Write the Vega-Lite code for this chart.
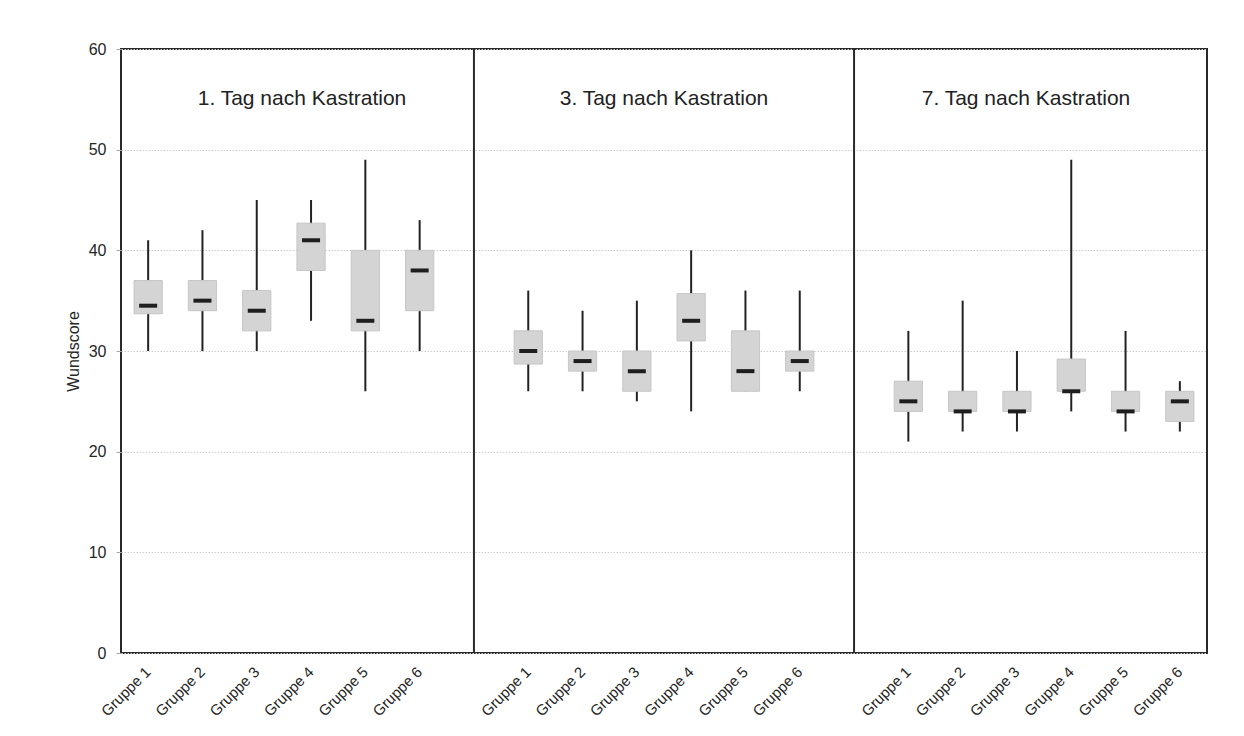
{
  "$schema": "https://vega.github.io/schema/vega-lite/v6.json",
  "width": 1086,
  "height": 604,
  "autosize": "none",
  "padding": {"left": 121, "top": 49, "right": 37, "bottom": 83},
  "background": "white",
  "config": {
    "font": "Liberation Sans",
    "view": {"stroke": "#2a2a2a", "strokeWidth": 2},
    "axis": {"labelColor": "#262626", "titleColor": "#262626", "labelFont": "Liberation Sans", "titleFont": "Liberation Sans"}
  },
  "datasets": {
    "boxes": [
      {"slot": "1|Gruppe 1", "tag": "1. Tag nach Kastration", "gruppe": "Gruppe 1", "low": 30, "q1": 33.7, "median": 34.5, "q3": 37, "high": 41},
      {"slot": "1|Gruppe 2", "tag": "1. Tag nach Kastration", "gruppe": "Gruppe 2", "low": 30, "q1": 34, "median": 35, "q3": 37, "high": 42},
      {"slot": "1|Gruppe 3", "tag": "1. Tag nach Kastration", "gruppe": "Gruppe 3", "low": 30, "q1": 32, "median": 34, "q3": 36, "high": 45},
      {"slot": "1|Gruppe 4", "tag": "1. Tag nach Kastration", "gruppe": "Gruppe 4", "low": 33, "q1": 38, "median": 41, "q3": 42.7, "high": 45},
      {"slot": "1|Gruppe 5", "tag": "1. Tag nach Kastration", "gruppe": "Gruppe 5", "low": 26, "q1": 32, "median": 33, "q3": 40, "high": 49},
      {"slot": "1|Gruppe 6", "tag": "1. Tag nach Kastration", "gruppe": "Gruppe 6", "low": 30, "q1": 34, "median": 38, "q3": 40, "high": 43},
      {"slot": "3|Gruppe 1", "tag": "3. Tag nach Kastration", "gruppe": "Gruppe 1", "low": 26, "q1": 28.7, "median": 30, "q3": 32, "high": 36},
      {"slot": "3|Gruppe 2", "tag": "3. Tag nach Kastration", "gruppe": "Gruppe 2", "low": 26, "q1": 28, "median": 29, "q3": 30, "high": 34},
      {"slot": "3|Gruppe 3", "tag": "3. Tag nach Kastration", "gruppe": "Gruppe 3", "low": 25, "q1": 26, "median": 28, "q3": 30, "high": 35},
      {"slot": "3|Gruppe 4", "tag": "3. Tag nach Kastration", "gruppe": "Gruppe 4", "low": 24, "q1": 31, "median": 33, "q3": 35.7, "high": 40},
      {"slot": "3|Gruppe 5", "tag": "3. Tag nach Kastration", "gruppe": "Gruppe 5", "low": 26, "q1": 26, "median": 28, "q3": 32, "high": 36},
      {"slot": "3|Gruppe 6", "tag": "3. Tag nach Kastration", "gruppe": "Gruppe 6", "low": 26, "q1": 28, "median": 29, "q3": 30, "high": 36},
      {"slot": "7|Gruppe 1", "tag": "7. Tag nach Kastration", "gruppe": "Gruppe 1", "low": 21, "q1": 24, "median": 25, "q3": 27, "high": 32},
      {"slot": "7|Gruppe 2", "tag": "7. Tag nach Kastration", "gruppe": "Gruppe 2", "low": 22, "q1": 24, "median": 24, "q3": 26, "high": 35},
      {"slot": "7|Gruppe 3", "tag": "7. Tag nach Kastration", "gruppe": "Gruppe 3", "low": 22, "q1": 24, "median": 24, "q3": 26, "high": 30},
      {"slot": "7|Gruppe 4", "tag": "7. Tag nach Kastration", "gruppe": "Gruppe 4", "low": 24, "q1": 26, "median": 26, "q3": 29.2, "high": 49},
      {"slot": "7|Gruppe 5", "tag": "7. Tag nach Kastration", "gruppe": "Gruppe 5", "low": 22, "q1": 24, "median": 24, "q3": 26, "high": 32},
      {"slot": "7|Gruppe 6", "tag": "7. Tag nach Kastration", "gruppe": "Gruppe 6", "low": 22, "q1": 23, "median": 25, "q3": 26, "high": 27}
    ],
    "gaps": [
      {"slot": "gap-a"},
      {"slot": "gap-b"}
    ],
    "panels": [
      {"tag": "1. Tag nach Kastration"},
      {"tag": "3. Tag nach Kastration"},
      {"tag": "7. Tag nach Kastration"}
    ]
  },
  "layer": [
    {
      "layer": [
        {
          "data": {"name": "boxes"},
          "mark": {"type": "rule", "color": "#222222", "strokeWidth": 2},
          "encoding": {
            "x": {"field": "slot", "type": "nominal"},
            "y": {"field": "low", "type": "quantitative"},
            "y2": {"field": "high"}
          }
        },
        {
          "data": {"name": "boxes"},
          "mark": {"type": "bar", "color": "#d4d4d4", "stroke": "#c6c6c6", "strokeWidth": 1, "width": {"band": 0.52}},
          "encoding": {
            "x": {"field": "slot", "type": "nominal"},
            "y": {"field": "q1", "type": "quantitative"},
            "y2": {"field": "q3"}
          }
        },
        {
          "data": {"name": "boxes"},
          "mark": {"type": "tick", "color": "#1e1e1e", "size": 18, "thickness": 4, "opacity": 1},
          "encoding": {
            "x": {"field": "slot", "type": "nominal"},
            "y": {"field": "median", "type": "quantitative"}
          }
        },
        {
          "data": {"name": "gaps"},
          "mark": {"type": "rule", "color": "#2a2a2a", "strokeWidth": 2},
          "encoding": {
            "x": {"field": "slot", "type": "nominal"}
          }
        }
      ],
      "encoding": {
        "x": {
          "field": "slot",
          "type": "nominal",
          "sort": null,
          "scale": {
            "domain": ["1|Gruppe 1", "1|Gruppe 2", "1|Gruppe 3", "1|Gruppe 4", "1|Gruppe 5", "1|Gruppe 6", "gap-a",
                       "3|Gruppe 1", "3|Gruppe 2", "3|Gruppe 3", "3|Gruppe 4", "3|Gruppe 5", "3|Gruppe 6", "gap-b",
                       "7|Gruppe 1", "7|Gruppe 2", "7|Gruppe 3", "7|Gruppe 4", "7|Gruppe 5", "7|Gruppe 6"],
            "paddingInner": 0,
            "paddingOuter": 0
          },
          "axis": {
            "title": null,
            "domain": false,
            "ticks": false,
            "labelAngle": -45,
            "labelFontSize": 15,
            "labelBaseline": "middle",
            "labelPadding": 16,
            "labelExpr": "indexof(datum.value, '|') >= 0 ? split(datum.value, '|')[1] : ''"
          }
        },
        "y": {
          "type": "quantitative",
          "scale": {"domain": [0, 60], "nice": false, "zero": true},
          "axis": {
            "title": "Wundscore",
            "titleFontSize": 16,
            "titleFontWeight": "normal",
            "titlePadding": 7,
            "values": [0, 10, 20, 30, 40, 50, 60],
            "labelFontSize": 16,
            "labelPadding": 10,
            "tickSize": 5,
            "tickColor": "#aaaaaa",
            "domain": false,
            "grid": true,
            "gridColor": "#cfcfcf",
            "gridDash": [1.5, 1.5],
            "gridWidth": 1
          }
        }
      }
    },
    {
      "data": {"name": "panels"},
      "mark": {"type": "text", "fontSize": 21, "color": "#222222", "font": "Liberation Sans", "baseline": "middle"},
      "encoding": {
        "x": {"field": "tag", "type": "nominal", "sort": null, "scale": {"paddingInner": 0, "paddingOuter": 0}, "axis": null},
        "y": {"datum": 55, "type": "quantitative"},
        "text": {"field": "tag"}
      }
    }
  ],
  "resolve": {"scale": {"x": "independent"}}
}
